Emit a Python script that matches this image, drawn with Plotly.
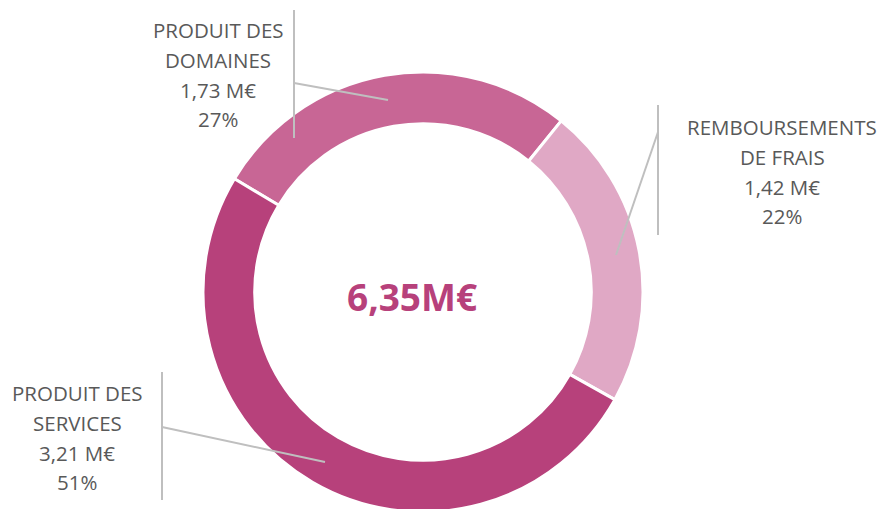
import plotly.graph_objects as go

# ---- data ----
categories = ["PRODUIT DES DOMAINES", "REMBOURSEMENTS DE FRAIS", "PRODUIT DES SERVICES"]
values_meur = [1.73, 1.42, 3.21]
percent_labels = ["27%", "22%", "51%"]
value_labels = ["1,73 M€", "1,42 M€", "3,21 M€"]
name_lines = [["PRODUIT DES", "DOMAINES"], ["REMBOURSEMENTS", "DE FRAIS"], ["PRODUIT DES", "SERVICES"]]
total_label = "6,35M€"
colors = ["#C86695", "#E0A8C5", "#B7417B"]

# ---- layout helpers ----
W, H = 882, 522
def px(x):
    return x / W
def py(y):
    return 1 - y / H

cx, cy, R = 423, 292, 220

fig = go.Figure()
fig.add_trace(go.Pie(
    labels=categories,
    values=values_meur,
    hole=0.765,
    sort=False,
    direction="clockwise",
    rotation=301,
    marker=dict(colors=colors, line=dict(color="white", width=3)),
    textinfo="none",
    hoverinfo="label+value+percent",
    showlegend=False,
    domain=dict(x=[px(cx - R), px(cx + R)], y=[py(cy + R), py(cy - R)]),
))

# label blocks: (center x, first line y), leader lines
label_pos = [(218, 30), (782, 127), (77, 393)]
vlines = [(294, 10, 138), (658, 105, 235), (162, 372, 500)]
dlines = [((294, 83), (388, 100)), ((658, 132), (616, 255)), ((162, 427), (325, 462))]
line_gap = 29.8

annotations = []
for i in range(len(categories)):
    lines = name_lines[i] + [value_labels[i], percent_labels[i]]
    lx, ly = label_pos[i]
    for k, t in enumerate(lines):
        annotations.append(dict(
            text=t, x=px(lx), y=py(ly + k * line_gap), xref="paper", yref="paper",
            xanchor="center", yanchor="middle", showarrow=False,
            font=dict(family="Open Sans", size=20.5, color="#595959"),
        ))

annotations.append(dict(
    text="<b>" + total_label + "</b>", x=px(412), y=py(296), xref="paper", yref="paper",
    xanchor="center", yanchor="middle", showarrow=False,
    font=dict(family="Open Sans", size=37, color="#B7417B"),
))

shapes = []
for (x, y0, y1) in vlines:
    shapes.append(dict(type="line", xref="paper", yref="paper",
                       x0=px(x), x1=px(x), y0=py(y0), y1=py(y1),
                       line=dict(color="#BFBFBF", width=2)))
for (a, b) in dlines:
    shapes.append(dict(type="line", xref="paper", yref="paper",
                       x0=px(a[0]), y0=py(a[1]), x1=px(b[0]), y1=py(b[1]),
                       line=dict(color="#BFBFBF", width=2)))

fig.update_layout(
    width=W, height=H,
    margin=dict(l=0, r=0, t=0, b=0),
    paper_bgcolor="white", plot_bgcolor="white",
    annotations=annotations,
    shapes=shapes,
)

fig.write_html(
    "out.html",
    config={"displayModeBar": False},
    post_script="document.body.style.margin='0';document.body.style.overflow='hidden';",
)
